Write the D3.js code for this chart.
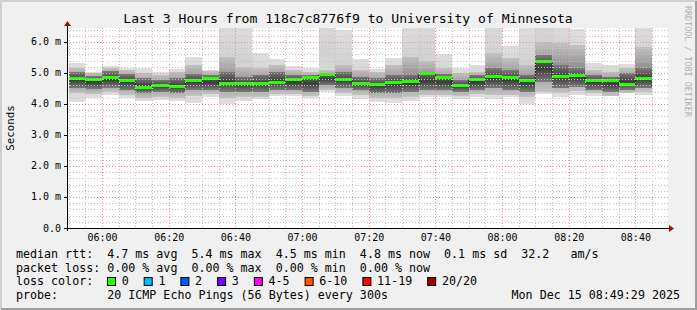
<!DOCTYPE html>
<html>
<head>
<meta charset="utf-8">
<script src="https://cdn.jsdelivr.net/npm/d3@7"></script>
<style>
  body { margin: 0; background: #f0f0f0; }
  svg text { font-family: "DejaVu Sans Mono", monospace; white-space: pre; }
</style>
</head>
<body>
<svg id="chart" width="697" height="310"></svg>
<script>
// 5 minute steps, 20 pings each (values in ms)
const barTimes = ['05:50','05:55','06:00','06:05','06:10','06:15','06:20','06:25','06:30','06:35',
  '06:40','06:45','06:50','06:55','07:00','07:05','07:10','07:15','07:20','07:25',
  '07:30','07:35','07:40','07:45','07:50','07:55','08:00','08:05','08:10','08:15',
  '08:20','08:25','08:30','08:35','08:40'];
const medians = [4.82,4.77,4.85,4.74,4.53,4.58,4.55,4.75,4.79,4.65,
  4.64,4.64,4.69,4.76,4.84,4.94,4.76,4.65,4.61,4.68,
  4.71,4.96,4.85,4.58,4.78,4.86,4.85,4.74,5.36,4.88,
  4.90,4.75,4.74,4.61,4.82];
const pingMin = [4.07,4.20,4.29,4.20,4.10,4.13,4.10,4.04,4.24,3.99,
  4.10,4.15,4.25,4.25,4.18,4.37,4.26,4.17,4.05,4.04,
  4.11,4.22,4.24,4.16,4.24,4.16,4.24,4.00,4.32,4.24,
  4.29,4.27,4.31,4.34,4.29];
const p10 = [4.34,4.31,4.40,4.29,4.18,4.24,4.20,4.27,4.31,4.18,
  4.24,4.24,4.31,4.31,4.27,4.45,4.34,4.29,4.18,4.18,
  4.24,4.29,4.29,4.26,4.31,4.29,4.29,4.24,4.40,4.34,
  4.42,4.34,4.27,4.34,4.40];
const p25 = [4.51,4.48,4.53,4.45,4.34,4.40,4.34,4.45,4.45,4.40,
  4.40,4.40,4.45,4.45,4.40,4.61,4.51,4.45,4.34,4.34,
  4.40,4.45,4.45,4.40,4.45,4.51,4.45,4.40,4.72,4.51,
  4.56,4.45,4.40,4.45,4.51];
const p75 = [5.04,4.91,5.05,4.96,4.83,4.77,4.83,4.96,4.94,5.04,
  4.88,4.94,5.04,4.94,4.94,4.99,5.04,4.88,4.83,4.94,
  4.94,5.04,4.96,4.77,4.94,5.15,5.10,4.94,5.58,5.26,
  5.15,4.94,4.88,4.99,5.15];
const p90 = [5.17,5.01,5.17,5.10,4.99,4.94,5.04,5.26,5.06,5.53,
  5.20,5.15,5.26,5.10,5.04,5.10,5.26,5.10,5.04,5.26,
  5.53,5.40,5.15,4.99,5.04,5.63,5.47,5.26,6.01,5.96,
  5.90,5.10,5.04,5.15,5.85];
const pingMax = [5.33,5.04,5.23,5.15,5.15,5.04,5.12,5.53,5.10,6.90,
  6.70,5.64,5.45,5.21,5.15,7.10,6.39,5.45,5.12,5.47,
  6.80,7.00,5.61,5.15,5.26,7.00,5.87,6.60,7.60,6.90,
  6.41,5.31,5.26,5.28,6.80];

const yTicks = [0, 1, 2, 3, 4, 5, 6];
const yTickLabels = ['0.0', '1.0 m', '2.0 m', '3.0 m', '4.0 m', '5.0 m', '6.0 m'];
const lossLabels = ['0', '1', '2', '3', '4-5', '6-10', '11-19', '20/20'];
const lossColors = ['#26ff00', '#00b8ff', '#0059ff', '#7e00ff', '#ff00ff', '#ff5500', '#ff0000', '#a00000'];
const rttStats = ['4.7', '5.4', '4.5', '4.8'];
const lossStats = ['0.00', '0.00', '0.00', '0.00'];
const statNames = ['avg', 'max', 'min', 'now'];

const title = 'Last 3 Hours from 118c7c8776f9 to University of Minnesota';
const yAxisLabel = 'Seconds';
const probeText = '20 ICMP Echo Pings (56 Bytes) every 300s';
const stampText = 'Mon Dec 15 08:49:29 2025';

const svg = d3.select('#chart');
const width = +svg.attr('width');
const height = +svg.attr('height');
const plot = {left: 67, right: 667, top: 28, bottom: 228};

const parseTime = d3.timeParse('%H:%M:%S');
const parseHM = d3.timeParse('%H:%M');
const xScale = d3.scaleTime()
    .domain([parseTime('05:49:29'), parseTime('08:49:29')])
    .range([plot.left, plot.right]);
const yScale = d3.scaleLinear().domain([0, 6.45]).range([plot.bottom, plot.top]);

// background + 3d frame
svg.append('rect').attr('width', width).attr('height', height).attr('fill', '#f0f0f0');
svg.append('path').attr('d', `M1,${height} V1 H${width}`).attr('stroke', '#cfcfcf').attr('stroke-width', 2).attr('fill', 'none');
svg.append('path').attr('d', `M1,${height - 1} H${width - 1} V1`).attr('stroke', '#9e9e9e').attr('stroke-width', 2).attr('fill', 'none');
svg.append('rect')
    .attr('x', plot.left).attr('y', plot.top)
    .attr('width', plot.right - plot.left + 1).attr('height', plot.bottom - plot.top)
    .attr('fill', '#ffffff');

const defs = svg.append('defs');
defs.append('clipPath').attr('id', 'clip').append('rect')
    .attr('x', plot.left).attr('y', plot.top)
    .attr('width', plot.right - plot.left).attr('height', plot.bottom - plot.top);

// shaded fills: lighter at the edges of a band, darker toward its middle
function addGradient(id, edge, mid) {
  const gr = defs.append('linearGradient').attr('id', id)
      .attr('x1', 0).attr('y1', 0).attr('x2', 0).attr('y2', 1);
  gr.append('stop').attr('offset', '0%').attr('stop-color', edge);
  gr.append('stop').attr('offset', '50%').attr('stop-color', mid);
  gr.append('stop').attr('offset', '100%').attr('stop-color', edge);
}
addGradient('smokeOuter', '#dedede', '#d2d2d2');
addGradient('smokeMid', '#c2c2c2', '#8e8e8e');
addGradient('smokeInner', '#7a7a7a', '#3c3c3c');

const data = barTimes.map((t, i) => ({
  t0: parseHM(t),
  t1: d3.timeMinute.offset(parseHM(t), 5),
  med: medians[i], min: pingMin[i], max: pingMax[i],
  p10: p10[i], p25: p25[i], p75: p75[i], p90: p90[i]
}));

const g = svg.append('g').attr('clip-path', 'url(#clip)');

// smoke layers
const layers = [
  {lo: 'min', hi: 'max', fill: 'url(#smokeOuter)'},
  {lo: 'p10', hi: 'p90', fill: 'url(#smokeMid)'},
  {lo: 'p25', hi: 'p75', fill: 'url(#smokeInner)'}
];
layers.forEach(l => {
  g.selectAll(null).data(data).enter().append('rect')
      .attr('x', d => xScale(d.t0))
      .attr('width', d => xScale(d.t1) - xScale(d.t0))
      .attr('y', d => yScale(d[l.hi]))
      .attr('height', d => yScale(d[l.lo]) - yScale(d[l.hi]))
      .attr('fill', l.fill)
      .attr('shape-rendering', 'crispEdges');
});

// grid
const minorTimes = d3.timeMinute.every(5).range(xScale.domain()[0], xScale.domain()[1]);
const gridG = svg.append('g').attr('shape-rendering', 'crispEdges');
gridG.selectAll('.vgrid').data(minorTimes).enter().append('line')
    .attr('x1', d => Math.round(xScale(d)) + 0.5).attr('x2', d => Math.round(xScale(d)) + 0.5)
    .attr('y1', plot.top).attr('y2', plot.bottom)
    .attr('stroke', d => d.getMinutes() % 20 === 0 ? '#f09090' : '#c4c4c4')
    .attr('stroke-dasharray', '1,2');
const minorVals = d3.range(0, 6.45, 0.2);
gridG.selectAll('.hgrid').data(minorVals).enter().append('line')
    .attr('x1', plot.left).attr('x2', plot.right + 2)
    .attr('y1', d => Math.round(yScale(d)) + 0.5).attr('y2', d => Math.round(yScale(d)) + 0.5)
    .attr('stroke', d => Math.abs(d - Math.round(d)) < 1e-6 ? '#f09090' : '#c4c4c4')
    .attr('stroke-dasharray', '1,2');

// median: thin dark step line + loss colour band
const stepLine = d3.line()
    .x(d => xScale(d.t))
    .y(d => yScale(d.v))
    .curve(d3.curveStepAfter);
const stepPts = data.map(d => ({t: d.t0, v: d.med}));
stepPts.push({t: data[data.length - 1].t1, v: data[data.length - 1].med});
g.append('path').attr('d', stepLine(stepPts))
    .attr('fill', 'none').attr('stroke', '#202020').attr('stroke-width', 1);
g.selectAll('.med').data(data).enter().append('rect')
    .attr('x', d => xScale(d.t0))
    .attr('width', d => xScale(d.t1) - xScale(d.t0))
    .attr('y', d => yScale(d.med) - 2)
    .attr('height', 3)
    .attr('fill', lossColors[0])
    .attr('shape-rendering', 'crispEdges');

// axes
const axisG = svg.append('g');
axisG.append('line').attr('x1', plot.left - 3).attr('x2', plot.right + 3)
    .attr('y1', plot.bottom + 0.5).attr('y2', plot.bottom + 0.5).attr('stroke', '#000');
axisG.append('line').attr('x1', plot.left + 0.5).attr('x2', plot.left + 0.5)
    .attr('y1', plot.bottom + 3).attr('y2', plot.top - 4).attr('stroke', '#000');
axisG.append('path')
    .attr('d', `M${plot.right + 2},${plot.bottom - 3} L${plot.right + 7},${plot.bottom + 0.5} L${plot.right + 2},${plot.bottom + 4} Z`)
    .attr('fill', '#a01010');
axisG.append('path')
    .attr('d', `M${plot.left - 3},${plot.top - 2} L${plot.left + 0.5},${plot.top - 7} L${plot.left + 4},${plot.top - 2} Z`)
    .attr('fill', '#a01010');

// y labels
axisG.selectAll('.ytick').data(yTicks).enter().append('line')
    .attr('x1', plot.left - 3).attr('x2', plot.left)
    .attr('y1', d => Math.round(yScale(d)) + 0.5).attr('y2', d => Math.round(yScale(d)) + 0.5)
    .attr('stroke', '#000');
axisG.selectAll('.ylab').data(yTicks).enter().append('text')
    .attr('x', 61)
    .attr('y', d => yScale(d) + 3.5)
    .attr('text-anchor', 'end')
    .attr('font-size', 10)
    .attr('fill', '#000')
    .text((d, i) => yTickLabels[i]);

// x labels
const majorTimes = d3.timeMinute.every(20).range(xScale.domain()[0], xScale.domain()[1]);
axisG.selectAll('.xlab').data(majorTimes).enter().append('text')
    .attr('x', d => xScale(d) + 0.5)
    .attr('y', plot.bottom + 13)
    .attr('text-anchor', 'middle')
    .attr('font-size', 10)
    .attr('fill', '#000')
    .text(d3.timeFormat('%H:%M'));

// title, axis label, watermark
svg.append('text').attr('x', 348).attr('y', 23).attr('text-anchor', 'middle')
    .attr('font-size', 13.1).attr('fill', '#000').text(title);
svg.append('text').attr('transform', `translate(14, ${(plot.top + plot.bottom) / 2}) rotate(-90)`)
    .attr('text-anchor', 'middle').attr('font-size', 10.8).attr('fill', '#000').text(yAxisLabel);
svg.append('text').attr('transform', 'translate(685, 6) rotate(90)')
    .attr('font-size', 8.4).attr('fill', '#b0b0b0').text('RRDTOOL / TOBI OETIKER');

// legend
const legendX = 16;
const charW = 7.02;
const legendFont = 11.66;
const rttLine = 'median rtt:  ' + rttStats.map((v, i) => `${v} ms ${statNames[i]}  `).join('') + '0.1 ms sd  32.2   am/s';
const lossLine = 'packet loss: ' + lossStats.map((v, i) => `${v} % ${statNames[i]}`).join('  ');
const legend = svg.append('g').attr('font-size', legendFont).attr('fill', '#000');
legend.append('text').attr('x', legendX).attr('y', 258).text(rttLine);
legend.append('text').attr('x', legendX).attr('y', 271.5).text(lossLine);
legend.append('text').attr('x', legendX).attr('y', 285).text('loss color:');
legend.append('text').attr('x', legendX).attr('y', 298.5).text('probe:       ' + probeText);
legend.append('text').attr('x', 680).attr('y', 298.5).attr('text-anchor', 'end').text(stampText);

let lx = legendX + 13 * charW - 0.3;
lossLabels.forEach((lab, i) => {
  legend.append('rect').attr('x', lx + 0.5).attr('y', 277.5).attr('width', 8).attr('height', 8)
      .attr('fill', lossColors[i]).attr('stroke', '#000').attr('stroke-width', 1);
  legend.append('text').attr('x', lx + 14.7).attr('y', 285).text(lab);
  lx += 14.7 + lab.length * charW + 15;
});
</script>
</body>
</html>
